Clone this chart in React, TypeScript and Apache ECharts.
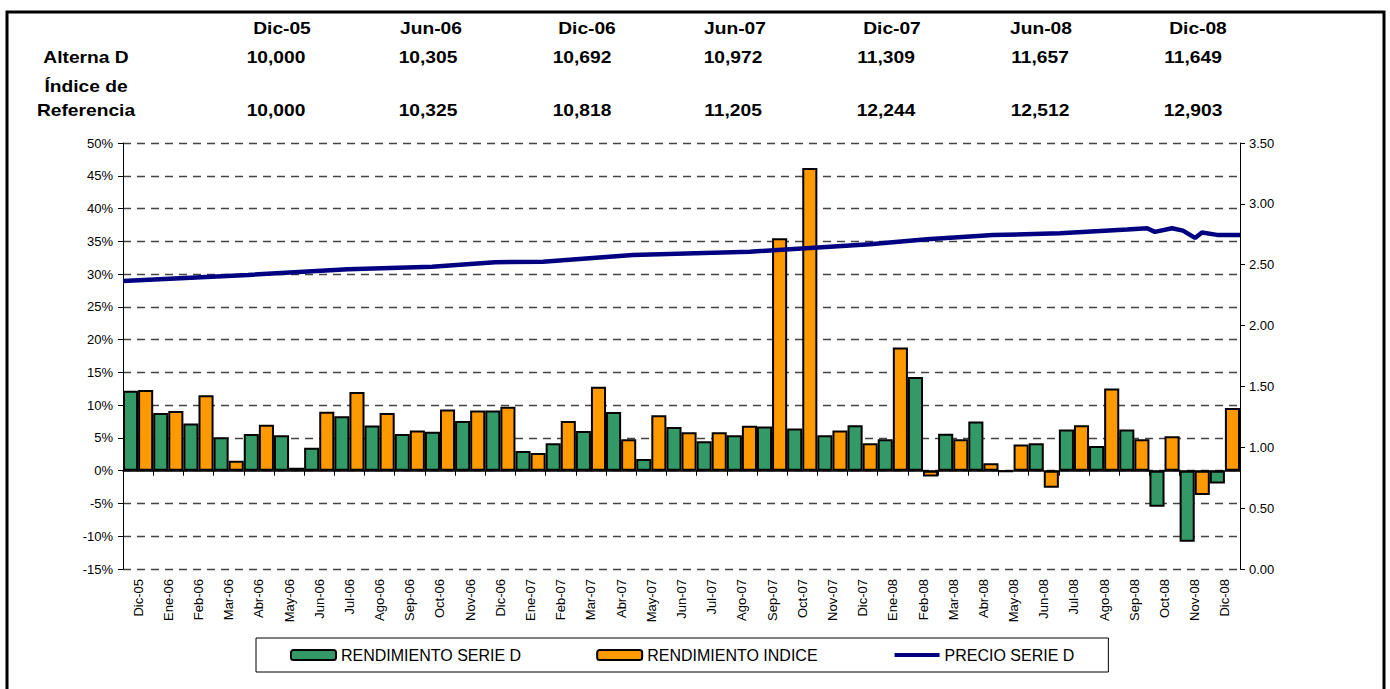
import React, { useEffect, useRef } from 'react';
import * as echarts from 'echarts';

const categories = [
  'Dic-05', 'Ene-06', 'Feb-06', 'Mar-06', 'Abr-06', 'May-06', 'Jun-06', 'Jul-06', 'Ago-06', 'Sep-06',
  'Oct-06', 'Nov-06', 'Dic-06', 'Ene-07', 'Feb-07', 'Mar-07', 'Abr-07', 'May-07', 'Jun-07', 'Jul-07',
  'Ago-07', 'Sep-07', 'Oct-07', 'Nov-07', 'Dic-07', 'Ene-08', 'Feb-08', 'Mar-08', 'Abr-08', 'May-08',
  'Jun-08', 'Jul-08', 'Ago-08', 'Sep-08', 'Oct-08', 'Nov-08', 'Dic-08',
];

const rendimientoSerieD = [
  12.2, 8.8, 7.2, 5.1, 5.6, 5.4, 3.5, 8.3, 6.9, 5.6,
  5.95, 7.6, 9.2, 3.0, 4.2, 6.05, 8.95, 1.8, 6.65, 4.5,
  5.4, 6.75, 6.45, 5.4, 6.95, 4.8, 14.3, 5.65, 7.5, -0.15,
  4.2, 6.3, 3.75, 6.3, -5.5, -10.85, -1.95,
];

const rendimientoIndice = [
  12.3, 9.1, 11.5, 1.5, 7.0, 0.45, 9.0, 12.0, 8.8, 6.15,
  9.35, 9.2, 9.75, 2.7, 7.6, 12.8, 4.8, 8.45, 5.85, 5.85,
  6.85, 35.45, 46.2, 6.15, 4.2, 18.8, -0.9, 4.8, 1.15, 4.0,
  -2.6, 6.95, 12.55, 4.8, 5.25, -3.7, 9.55,
];

// month position (0 = start of Dic-05, 37 = end of Dic-08) and price
const precioMonth = [
  0, 4.14, 7.45, 10.24, 12.32, 13.91, 16.89, 20.77, 24.74, 26.63, 28.82,
  31.04, 33.26, 33.92, 34.18, 34.75, 35.11, 35.51, 35.74, 36.24, 37,
];
const precioSerieD = [
  2.366, 2.416, 2.463, 2.484, 2.52, 2.525, 2.58, 2.607, 2.668, 2.709, 2.744,
  2.758, 2.79, 2.8, 2.77, 2.8, 2.78, 2.72, 2.765, 2.745, 2.745,
];

const leftTicks = { min: -15, max: 50, interval: 5 };
const rightTicks = { min: 0, max: 3.5, interval: 0.5 };

const headerDates = ['Dic-05', 'Jun-06', 'Dic-06', 'Jun-07', 'Dic-07', 'Jun-08', 'Dic-08'];
const alternaValues = ['10,000', '10,305', '10,692', '10,972', '11,309', '11,657', '11,649'];
const indiceValues = ['10,000', '10,325', '10,818', '11,205', '12,244', '12,512', '12,903'];

const headerDateX = [282, 431, 587, 735, 892, 1041, 1198];
const headerValueX = [276, 428, 582, 733, 886, 1040, 1193];

export default function App() {
  const ref = useRef<HTMLDivElement>(null);

  useEffect(() => {
    if (!ref.current) return;
    const chart = echarts.init(ref.current, null, { renderer: 'svg' });
    const font = 'Arial, "Liberation Sans", sans-serif';
    const bold = { fontFamily: font, fontWeight: 'bold' as const, fontSize: 16, fill: '#000' };
    const mk = (x: number, y: number, text: string) => ({
      type: 'text',
      x,
      y,
      scaleX: 1.2,
      style: { ...bold, text, textAlign: 'center', textVerticalAlign: 'middle' },
    });

    const graphics: any[] = [
      {
        type: 'rect',
        shape: { x: 7, y: 12, width: 1377, height: 720 },
        style: { fill: 'none', stroke: '#000', lineWidth: 3 },
        silent: true,
        z: 100,
      },
      mk(86, 58, 'Alterna D'),
      mk(86, 87, 'Índice de'),
      mk(86, 111, 'Referencia'),
    ];
    headerDates.forEach((d, i) => {
      graphics.push(mk(headerDateX[i], 29, d));
      graphics.push(mk(headerValueX[i], 58, alternaValues[i]));
      graphics.push(mk(headerValueX[i], 111, indiceValues[i]));
    });

    const axisText = { color: '#000', fontSize: 13, fontFamily: font };
    const legendText = { color: '#000', fontSize: 16, fontFamily: font };

    chart.setOption({
      animation: false,
      backgroundColor: '#fff',
      textStyle: { fontFamily: font },
      graphic: graphics,
      grid: { left: 123, right: 150, top: 143, bottom: 120, containLabel: false },
      legend: {
        left: 256,
        top: 638,
        orient: 'horizontal',
        borderColor: '#000',
        borderWidth: 1,
        padding: [9, 34, 9, 34],
        itemWidth: 45,
        itemHeight: 10,
        itemGap: 75,
        textStyle: legendText,
        data: [
          { name: 'RENDIMIENTO SERIE D' },
          { name: 'RENDIMIENTO INDICE' },
          {
            name: 'PRECIO SERIE D',
            itemStyle: { color: 'rgba(0,0,0,0)', borderWidth: 0, opacity: 0 },
            lineStyle: { color: '#000080', width: 4 },
          },
        ],
      },
      xAxis: [
        {
          type: 'category',
          data: categories,
          position: 'bottom',
          boundaryGap: true,
          axisLine: { show: true, onZero: true, onZeroAxisIndex: 0, lineStyle: { color: '#000', width: 1.5 } },
          axisTick: { show: true, interval: 0, length: 5, alignWithLabel: false, lineStyle: { color: '#000' } },
          axisLabel: { show: false },
          splitLine: { show: false },
        },
        {
          type: 'category',
          data: categories,
          position: 'bottom',
          boundaryGap: true,
          axisLine: { show: false, onZero: false },
          axisTick: { show: false },
          axisLabel: { ...axisText, rotate: 90, interval: 0, margin: 10 },
          splitLine: { show: false },
        },
        {
          type: 'value',
          min: 0,
          max: 37,
          show: false,
          axisLine: { onZero: false },
          splitLine: { show: false },
        },
      ],
      yAxis: [
        {
          type: 'value',
          min: leftTicks.min,
          max: leftTicks.max,
          interval: leftTicks.interval,
          position: 'left',
          axisLine: { show: true, onZero: false, lineStyle: { color: '#000', width: 1 } },
          axisTick: { show: true, length: 5, lineStyle: { color: '#000' } },
          axisLabel: { ...axisText, formatter: '{value}%', margin: 10 },
          splitLine: { show: true, lineStyle: { color: '#444', type: [8, 6], width: 1.3 } },
        },
        {
          type: 'value',
          min: rightTicks.min,
          max: rightTicks.max,
          interval: rightTicks.interval,
          position: 'right',
          axisLine: { show: true, onZero: false, lineStyle: { color: '#000', width: 1 } },
          axisTick: { show: true, length: 5, lineStyle: { color: '#000' } },
          axisLabel: { ...axisText, formatter: (v: number) => v.toFixed(2), margin: 9 },
          splitLine: { show: false },
        },
      ],
      series: [
        {
          name: 'RENDIMIENTO SERIE D',
          type: 'bar',
          xAxisIndex: 0,
          yAxisIndex: 0,
          data: rendimientoSerieD,
          barGap: '0%',
          barCategoryGap: '0%',
          itemStyle: { color: '#339966', borderColor: '#000', borderWidth: 2 },
          z: 2,
        },
        {
          name: 'RENDIMIENTO INDICE',
          type: 'bar',
          xAxisIndex: 0,
          yAxisIndex: 0,
          data: rendimientoIndice,
          barGap: '0%',
          barCategoryGap: '0%',
          itemStyle: { color: '#FF9900', borderColor: '#000', borderWidth: 2 },
          z: 2,
        },
        {
          name: 'PRECIO SERIE D',
          type: 'line',
          xAxisIndex: 2,
          yAxisIndex: 1,
          data: precioMonth.map((m, i) => [m, precioSerieD[i]]),
          symbol: 'none',
          showSymbol: false,
          lineStyle: { color: '#000080', width: 4.5 },
          itemStyle: { color: '#000080' },
          z: 5,
        },
      ],
    });

    return () => chart.dispose();
  }, []);

  return (
    <div
      ref={ref}
      style={{ position: 'absolute', left: 0, top: 0, width: 1390, height: 689 }}
    />
  );
}
